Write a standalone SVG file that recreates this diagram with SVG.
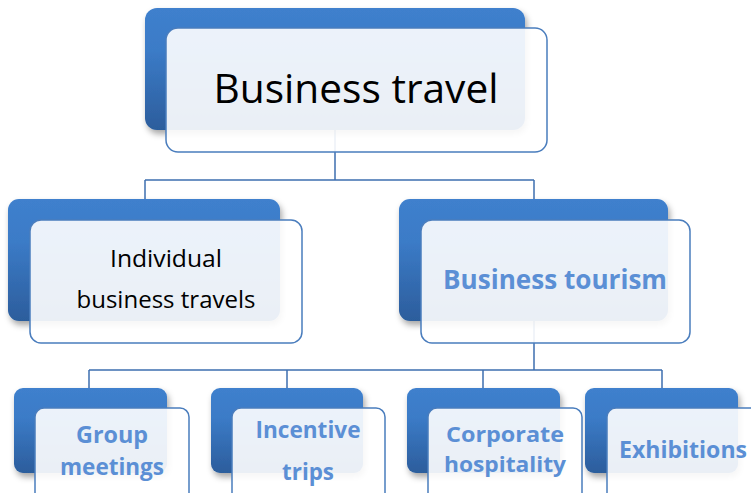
<svg xmlns="http://www.w3.org/2000/svg" width="751" height="493" viewBox="0 0 751 493">
<defs>
<linearGradient id="bg" x1="0" y1="0" x2="0" y2="1">
<stop offset="0" stop-color="#3f80cd"/>
<stop offset="0.35" stop-color="#3b7bc7"/>
<stop offset="1" stop-color="#2c5d9c"/>
</linearGradient>
<filter id="sh" x="-10%" y="-10%" width="125%" height="130%">
<feDropShadow dx="2" dy="4" stdDeviation="3" flood-color="#000" flood-opacity="0.35"/>
</filter>
</defs>
<style>
.back{fill:url(#bg);filter:url(#sh)}
.front{fill:#fff;fill-opacity:0.9;stroke:#4a7dbd;stroke-width:1.5}
.conn{fill:none;stroke:#3e6fb0;stroke-width:1.5}
.t1{font-family:"Open Sans","Liberation Sans",sans-serif;fill:#000;text-anchor:middle}
.t2{font-family:"Open Sans","Liberation Sans",sans-serif;font-weight:bold;fill:#5b8fd5;text-anchor:middle}
</style>
<rect width="751" height="493" fill="#fff"/>
<g id="connectors">
<path class="conn" d="M335 130V180M145 180H534M145 180V199M534 180V199"/>
<path class="conn" d="M534 321V370M89 370H662M89 370V388M287 370V388M483 370V388M662 370V388"/>
</g>
<g id="n-business-travel">
<rect class="back" x="145" y="8" width="380" height="122" rx="12"/>
<rect class="front" x="166" y="28" width="381" height="124" rx="12"/>
<text class="t1" x="356" y="103" font-size="41" textLength="285" lengthAdjust="spacingAndGlyphs">Business travel</text>
</g>
<g id="n-individual">
<rect class="back" x="8" y="199" width="272" height="122" rx="11"/>
<rect class="front" x="30" y="220" width="272" height="123" rx="11"/>
<text class="t1" x="166" y="267" font-size="23" textLength="112" lengthAdjust="spacingAndGlyphs">Individual</text>
<text class="t1" x="166" y="308" font-size="23" textLength="179" lengthAdjust="spacingAndGlyphs">business travels</text>
</g>
<g id="n-business-tourism">
<rect class="back" x="399" y="199" width="269" height="122" rx="11"/>
<rect class="front" x="421" y="220" width="269" height="123" rx="11"/>
<text class="t2" x="555" y="289" font-size="26" textLength="224" lengthAdjust="spacingAndGlyphs">Business tourism</text>
</g>
<g id="n-group">
<rect class="back" x="14" y="388" width="153" height="85" rx="9"/>
<rect class="front" x="35" y="408" width="154" height="100" rx="9"/>
<text class="t2" x="112" y="443" font-size="24" textLength="72" lengthAdjust="spacingAndGlyphs">Group</text>
<text class="t2" x="112" y="475" font-size="24" textLength="104" lengthAdjust="spacingAndGlyphs">meetings</text>
</g>
<g id="n-incentive">
<rect class="back" x="211" y="388" width="152" height="85" rx="9"/>
<rect class="front" x="232" y="408" width="153" height="100" rx="9"/>
<text class="t2" x="308" y="438" font-size="24" textLength="105" lengthAdjust="spacingAndGlyphs">Incentive</text>
<text class="t2" x="308" y="480" font-size="24" textLength="52" lengthAdjust="spacingAndGlyphs">trips</text>
</g>
<g id="n-corporate">
<rect class="back" x="407" y="388" width="153" height="85" rx="9"/>
<rect class="front" x="428" y="408" width="154" height="100" rx="9"/>
<text class="t2" x="505" y="442" font-size="22" textLength="118" lengthAdjust="spacingAndGlyphs">Corporate</text>
<text class="t2" x="505" y="472" font-size="22" textLength="122" lengthAdjust="spacingAndGlyphs">hospitality</text>
</g>
<g id="n-exhibitions">
<rect class="back" x="585" y="388" width="153" height="85" rx="9"/>
<rect class="front" x="607" y="408" width="154" height="100" rx="9"/>
<text class="t2" x="683" y="458" font-size="24" textLength="128" lengthAdjust="spacingAndGlyphs">Exhibitions</text>
</g>
</svg>
